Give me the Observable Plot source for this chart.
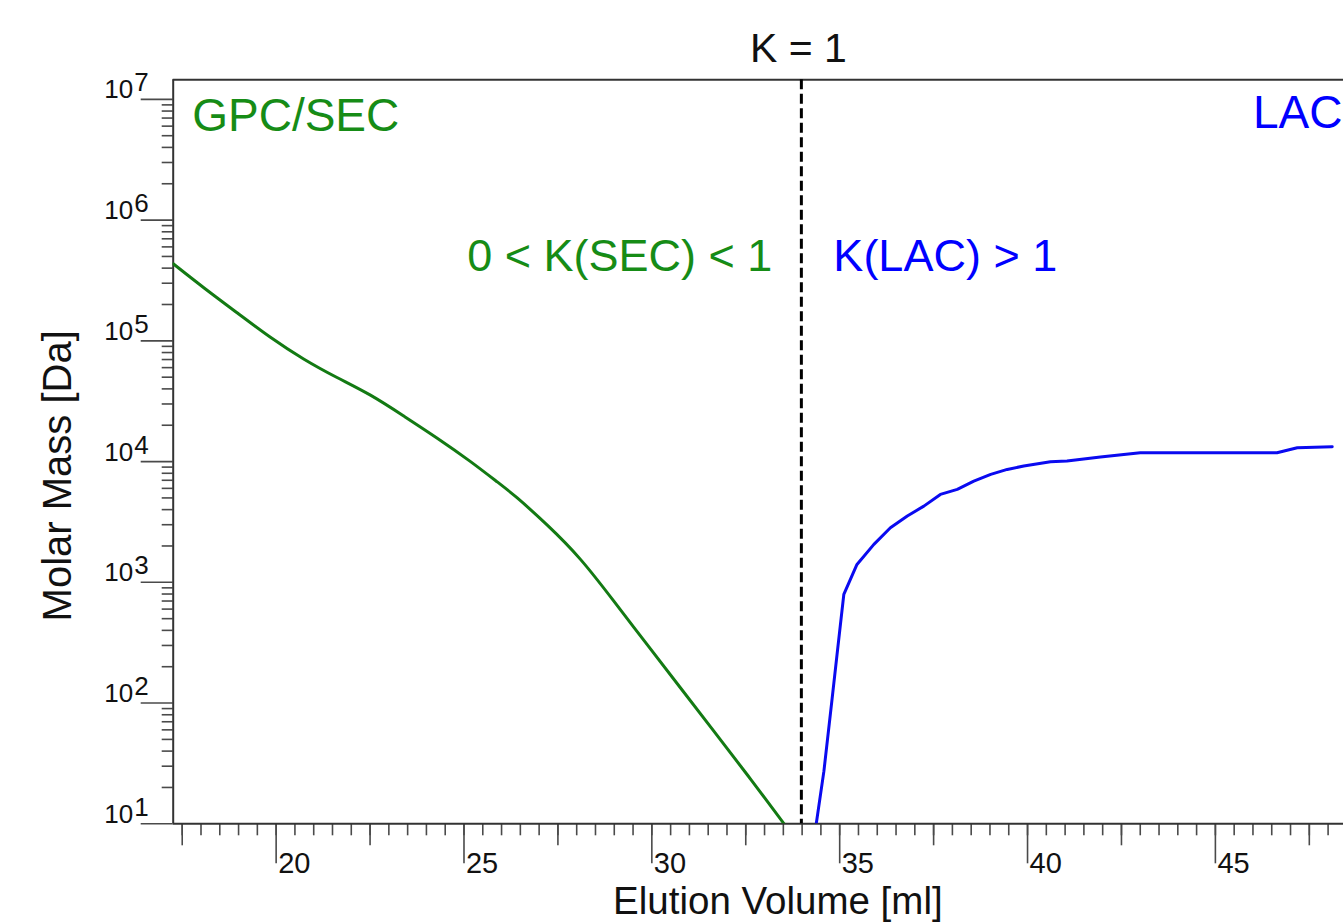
<!DOCTYPE html>
<html>
<head>
<meta charset="utf-8">
<script src="https://cdn.jsdelivr.net/npm/d3@7"></script>
<script src="https://cdn.jsdelivr.net/npm/@observablehq/plot@0.6"></script>
<style>
  html, body { margin: 0; padding: 0; background: #fff; overflow: hidden; }
  svg { display: block; overflow: hidden; }
</style>
</head>
<body>
<div id="chart"></div>
<script>
// ---- data ----
const secVolume = [17.26, 18.07, 18.96, 19.85, 20.73, 21.62, 22.51, 23.40, 24.29, 25.17, 25.97, 26.32, 27.21, 28.10, 28.99, 29.87, 30.76, 31.65, 32.54, 33.52];
const secMass   = [435000, 275000, 171000, 106000, 70000, 49400, 36100, 23800, 15700, 10100, 6470, 5350, 3020, 1600, 698, 306, 134, 58.6, 25.6, 10];

const lacVolume = [34.38, 34.58, 34.80, 34.93, 35.11, 35.46, 35.91, 36.35, 36.80, 37.24, 37.68, 38.13, 38.57, 39.02, 39.46, 39.90, 40.61, 41.05, 41.94, 42.50, 43.00, 46.64, 47.18, 48.11];
const lacMass   = [10.2, 27.3, 110, 253, 794, 1406, 2061, 2831, 3540, 4276, 5346, 5888, 6887, 7834, 8610, 9183, 9950, 10100, 10890, 11400, 11830, 11830, 13000, 13270];

const kEqualsOneVolume = 33.98;

const xMajorTicks  = [20, 25, 30, 35, 40, 45];
const xMediumTicks = [17.5, 22.5, 27.5, 32.5, 37.5, 42.5, 47.5];
const xMinorTicks  = d3.range(17.5, 48.01, 0.5);

const yMajorTicks  = [1e1, 1e2, 1e3, 1e4, 1e5, 1e6, 1e7];
const yExponents   = ["1", "2", "3", "4", "5", "6", "7"];
const yMinorTicks  = [1, 2, 3, 4, 5, 6].flatMap(n => [2, 3, 4, 5, 6, 7, 8, 9].map(m => m * 10 ** n));

const xDomain = [17.26, 48.41];
const yDomain = [10, 1.452e7];

// ---- styles ----
const font = "'Liberation Sans', Arial, Helvetica, sans-serif";
const green = "#137a13";
const greenText = "#168c16";
const blue = "#0a0af0";
const blueText = "#0000ff";
const axisColor = "#333";
const tickColor = "#4a4a4a";

const sec = secVolume.map((v, i) => ({v, m: secMass[i]}));
const lac = lacVolume.map((v, i) => ({v, m: lacMass[i]}));

const chart = Plot.plot({
  width: 1343,
  height: 922,
  marginLeft: 172.7,
  marginRight: 0,
  marginTop: 79.3,
  marginBottom: 98.7,
  style: {fontFamily: font, background: "#fff", overflow: "hidden"},
  x: {domain: xDomain, axis: null},
  y: {type: "log", domain: yDomain, axis: null},
  marks: [
    // x ticks
    Plot.axisX({ticks: xMinorTicks, tickSize: 12, tickFormat: () => "", stroke: tickColor, strokeWidth: 1.6, label: null}),
    Plot.axisX({ticks: xMediumTicks, tickSize: 22, tickFormat: () => "", stroke: tickColor, strokeWidth: 1.6, label: null}),
    Plot.axisX({ticks: xMajorTicks, tickSize: 40, tickFormat: () => "", stroke: tickColor, strokeWidth: 1.6, label: null}),
    // y ticks
    Plot.axisY({ticks: yMinorTicks, tickSize: 11, tickFormat: () => "", stroke: tickColor, strokeWidth: 1.6, label: null}),
    Plot.axisY({ticks: yMajorTicks, tickSize: 32, tickFormat: () => "", stroke: tickColor, strokeWidth: 1.6, label: null}),

    // frame (left, bottom, top)
    Plot.ruleX([xDomain[0]], {stroke: axisColor, strokeWidth: 2}),
    Plot.ruleY([yDomain[0]], {stroke: axisColor, strokeWidth: 2}),
    Plot.ruleY([yDomain[1]], {stroke: axisColor, strokeWidth: 2}),

    // x tick labels
    Plot.text(xMajorTicks, {x: d => d, text: d => String(d), frameAnchor: "bottom", textAnchor: "start", lineAnchor: "bottom", dx: 2, dy: 48.7, fontSize: 29, fill: "#111"}),
    // y tick labels 10^n
    Plot.text(yMajorTicks, {y: d => d, text: () => "10", frameAnchor: "left", textAnchor: "end", lineAnchor: "bottom", dx: -40, dy: -1, fontSize: 26, fill: "#111"}),
    Plot.text(yMajorTicks, {y: d => d, text: (d, i) => yExponents[i], frameAnchor: "left", textAnchor: "start", lineAnchor: "bottom", dx: -39, dy: -8, fontSize: 26, fill: "#111"}),

    // axis labels
    Plot.text(["Elution Volume [ml]"], {text: d => d, frameAnchor: "bottom", textAnchor: "middle", lineAnchor: "bottom", dx: 19.5, dy: 90, fontSize: 38.5, fill: "#111"}),
    Plot.text(["Molar Mass [Da]"], {text: d => d, frameAnchor: "left", textAnchor: "middle", rotate: -90, lineAnchor: "bottom", dx: -102.7, dy: 24, fontSize: 40, fill: "#111"}),

    // K = 1 line and title
    Plot.ruleX([kEqualsOneVolume], {stroke: "#000", strokeWidth: 3, strokeDasharray: "10,4.5"}),
    Plot.text([kEqualsOneVolume], {x: d => d, text: () => "K = 1", frameAnchor: "top", lineAnchor: "bottom", dx: -3, dy: -17.6, fontSize: 41, fill: "#111"}),

    // curves
    Plot.line(sec, {x: "v", y: "m", stroke: green, strokeWidth: 3, curve: "basis", clip: true}),
    Plot.line(lac, {x: "v", y: "m", stroke: blue, strokeWidth: 3, curve: "linear", clip: true}),

    // annotations
    Plot.text(["GPC/SEC"], {text: d => d, frameAnchor: "top-left", textAnchor: "start", lineAnchor: "bottom", dx: 19, dy: 50.7, fontSize: 46, fill: greenText}),
    Plot.text(["LAC"], {text: d => d, frameAnchor: "top-right", textAnchor: "end", lineAnchor: "bottom", dx: -1, dy: 48.4, fontSize: 46, fill: blueText}),
    Plot.text([kEqualsOneVolume], {x: d => d, text: () => "0 < K(SEC) < 1", frameAnchor: "top", textAnchor: "end", lineAnchor: "bottom", dx: -29, dy: 190.7, fontSize: 45, fill: greenText}),
    Plot.text([kEqualsOneVolume], {x: d => d, text: () => "K(LAC) > 1", frameAnchor: "top", textAnchor: "start", lineAnchor: "bottom", dx: 32, dy: 190.7, fontSize: 45, fill: blueText})
  ]
});

document.getElementById("chart").appendChild(chart);
</script>
</body>
</html>
